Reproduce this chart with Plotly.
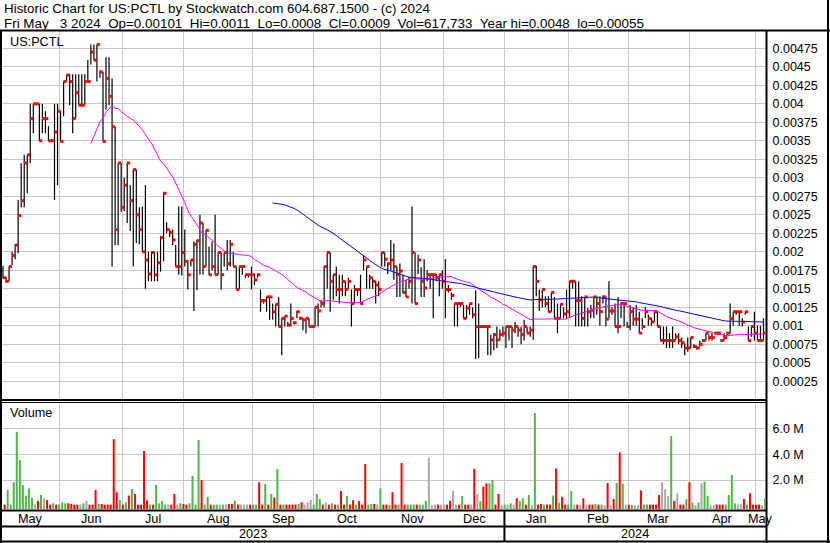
import plotly.graph_objects as go
import pandas as pd

W, H = 830, 543

# ---------------- data ----------------
HOLIDAYS = ["2023-05-29", "2023-06-19", "2023-07-04", "2023-09-04", "2023-11-23",
            "2023-12-25", "2024-01-01", "2024-01-15", "2024-02-19", "2024-03-29"]
trade_days = pd.bdate_range("2023-05-04", "2024-05-03")
trade_days = trade_days[~trade_days.isin(pd.to_datetime(HOLIDAYS))]

# daily high / low / close (USD)
high = [0.00181, 0.00166, 0.0018, 0.002, 0.0021, 0.0027, 0.0032, 0.00331, 0.00331, 0.004,
        0.004, 0.004, 0.004, 0.004, 0.0039, 0.0037, 0.00352, 0.004,
        0.004, 0.0039, 0.0043, 0.00439, 0.0044, 0.0044, 0.0044, 0.0044, 0.0044, 0.0044,
        0.00459, 0.0048, 0.0048, 0.0048, 0.00445, 0.00443, 0.00463, 0.00463, 0.00434, 0.00369,
        0.0032, 0.0032, 0.003, 0.0032, 0.0029, 0.00311, 0.00311, 0.0026, 0.00261, 0.0029,
        0.002, 0.002, 0.002, 0.002, 0.00221, 0.0028, 0.0024, 0.0023, 0.0023, 0.00209, 0.00261, 0.00261,
        0.0023, 0.00189, 0.00189, 0.00214, 0.00216, 0.0025, 0.00239, 0.00229, 0.00207, 0.00214,
        0.0025, 0.00199, 0.00199, 0.00199, 0.00216, 0.00216, 0.002, 0.0018, 0.0018, 0.0018,
        0.00169, 0.00169, 0.0018,
        0.0017, 0.0017, 0.00149, 0.00136, 0.00139, 0.00139, 0.0013, 0.00129, 0.00139, 0.0011,
        0.00113, 0.00105, 0.0013, 0.00106, 0.0012, 0.00112, 0.0011, 0.0011, 0.0011, 0.00101,
        0.00125, 0.0013, 0.00135, 0.00181, 0.00199, 0.00199, 0.00169, 0.0018, 0.00169, 0.00169,
        0.0016, 0.00165, 0.00149, 0.00155, 0.0015, 0.00169, 0.00195, 0.0018, 0.00169, 0.00165,
        0.0016, 0.0016,
        0.00199, 0.00199, 0.00185, 0.00216, 0.00211, 0.0018, 0.00184, 0.00169, 0.00162, 0.00166,
        0.00261, 0.00199, 0.00196, 0.00179, 0.0019, 0.00175, 0.00169, 0.00169, 0.0017, 0.00169,
        0.00175,
        0.0019, 0.00155, 0.00145, 0.0013, 0.0013, 0.00132, 0.00128, 0.00128, 0.0013, 0.00125,
        0.00148, 0.0013, 0.001, 0.00101, 0.00099, 0.00088, 0.0009, 0.00099, 0.00095, 0.00099,
        0.00099, 0.001, 0.00099, 0.00105, 0.00099, 0.00099, 0.00108, 0.00098, 0.00099, 0.00181,
        0.00181, 0.00149, 0.00149, 0.0014, 0.0014, 0.00145, 0.00139, 0.0013, 0.00129, 0.00125,
        0.00149,
        0.0016, 0.00162, 0.0016, 0.0016, 0.0014, 0.00139, 0.00124, 0.00128, 0.00139, 0.0014,
        0.0014, 0.00141, 0.0014, 0.0016, 0.00125, 0.0013, 0.00139, 0.00132, 0.0013, 0.00105,
        0.00128, 0.00125, 0.00128, 0.00119, 0.0011, 0.00125, 0.00115, 0.0011, 0.0012, 0.0012,
        0.00099, 0.00099, 0.00099, 0.0009, 0.00099, 0.0009, 0.0009, 0.00084, 0.00076, 0.00084,
        0.00084, 0.00075, 0.00072, 0.0008, 0.00082, 0.0009, 0.00088, 0.0009, 0.00092, 0.00092,
        0.00082, 0.0009, 0.00092, 0.0013, 0.00119, 0.0012, 0.00119, 0.0011, 0.0012, 0.00099,
        0.00099, 0.00119,
        0.001, 0.001, 0.0011]
low = [0.00164, 0.00158, 0.0016, 0.00182, 0.0019, 0.00198, 0.0026, 0.0026, 0.00279, 0.0032,
       0.0036, 0.00398, 0.0035, 0.0036, 0.0036, 0.0035, 0.00348, 0.0027,
       0.0029, 0.00349, 0.00383, 0.0043, 0.00398, 0.0036, 0.0038, 0.00398, 0.00398, 0.00398,
       0.0043, 0.00453, 0.00459, 0.0043, 0.00435, 0.00349, 0.00392, 0.00398, 0.0018, 0.00209,
       0.00209, 0.00254, 0.00255, 0.00239, 0.00228, 0.0018, 0.00212, 0.0021, 0.002, 0.0015,
       0.0016, 0.0016, 0.0016, 0.0016, 0.00173, 0.00187, 0.00225, 0.0022, 0.00209, 0.0018, 0.00169, 0.00168,
       0.0018, 0.00149, 0.0018, 0.0012, 0.00148, 0.00169, 0.00169, 0.0018, 0.00169, 0.00175,
       0.00169, 0.00169, 0.00149, 0.0018, 0.00175, 0.0018, 0.0018, 0.00149, 0.00149, 0.00169,
       0.00165, 0.00165, 0.00149,
       0.00155, 0.00165, 0.00119, 0.0013, 0.00119, 0.00108, 0.00108, 0.00099, 0.00099, 0.0006,
       0.00099, 0.00099, 0.00099, 0.00102, 0.0011, 0.00108, 0.00094, 0.0009, 0.00099, 0.00098,
       0.00099, 0.00099, 0.00125, 0.00125, 0.0015, 0.00119, 0.00135, 0.0014, 0.0013, 0.0014,
       0.0014, 0.0015, 0.00099, 0.0013, 0.0014, 0.0013, 0.00175, 0.0015, 0.0015, 0.0015,
       0.0013, 0.0014,
       0.0018, 0.0018, 0.0017, 0.00175, 0.00162, 0.00139, 0.00139, 0.00144, 0.00139, 0.0015,
       0.0013, 0.0013, 0.0017, 0.00139, 0.00139, 0.0016, 0.0015, 0.0011, 0.0016, 0.0014,
       0.0015,
       0.0011, 0.00145, 0.00135, 0.00099, 0.00099, 0.00125, 0.0011, 0.0011, 0.00115, 0.0011,
       0.00055, 0.00056, 0.00097, 0.00097, 0.0006, 0.0006, 0.00067, 0.0007, 0.0008, 0.00085,
       0.0007, 0.0008, 0.0007, 0.0009, 0.00085, 0.00075, 0.0008, 0.0009, 0.00085, 0.00081,
       0.0014, 0.0012, 0.00125, 0.00125, 0.00119, 0.00119, 0.0011, 0.0009, 0.0011, 0.0011,
       0.0011,
       0.00112, 0.0015, 0.00099, 0.00099, 0.00099, 0.00099, 0.00099, 0.0011, 0.0011, 0.00115,
       0.001, 0.0013, 0.00099, 0.0011, 0.00115, 0.00099, 0.0009, 0.0011, 0.00099, 0.00097,
       0.00094, 0.001, 0.001, 0.0009, 0.00095, 0.0011, 0.001, 0.001, 0.00105, 0.00099,
       0.0008, 0.00075, 0.0007, 0.0007, 0.0007, 0.0008, 0.00075, 0.0007, 0.0006, 0.00065,
       0.0007, 0.0007, 0.00068, 0.00072, 0.00078, 0.0008, 0.0008, 0.0008, 0.00088, 0.00088,
       0.00078, 0.0008, 0.00088, 0.0009, 0.001, 0.00115, 0.001, 0.00099, 0.00115, 0.0008,
       0.00085, 0.0008,
       0.0008, 0.0008, 0.0008]
close = [0.00165, 0.0016, 0.0018, 0.00195, 0.00209, 0.00249, 0.00269, 0.0032, 0.00331, 0.0038,
         0.004, 0.004, 0.0035, 0.0038, 0.0038, 0.0035, 0.0035, 0.00362,
         0.0039, 0.00349, 0.0043, 0.00439, 0.0043, 0.0038, 0.00415, 0.00398, 0.00398, 0.0043,
         0.0043, 0.0047, 0.00459, 0.0048, 0.00443, 0.00349, 0.00434, 0.0041, 0.00369, 0.0023,
         0.0032, 0.0026, 0.0029, 0.0032, 0.00269, 0.00311, 0.0025, 0.0023, 0.002, 0.00189,
         0.0017, 0.00199, 0.00169, 0.00185, 0.00219, 0.00279, 0.0023, 0.00226, 0.00216, 0.0018, 0.0018, 0.00199,
         0.00187, 0.00169, 0.00189, 0.0021, 0.00215, 0.00239, 0.0018, 0.00229, 0.00169, 0.0018,
         0.00169, 0.00199, 0.00169, 0.00199, 0.00184, 0.0021, 0.0018, 0.00149, 0.0018, 0.0018,
         0.00169, 0.00169, 0.00169,
         0.00162, 0.00169, 0.00134, 0.00134, 0.00139, 0.00139, 0.00119, 0.00129, 0.00099, 0.0011,
         0.00113, 0.00101, 0.0011, 0.00104, 0.00119, 0.0011, 0.00108, 0.0011, 0.00099, 0.00099,
         0.00125, 0.0012, 0.0013, 0.0018, 0.00199, 0.0016, 0.00169, 0.00149, 0.00149, 0.0016,
         0.00149, 0.0016, 0.0013, 0.00149, 0.00149, 0.0013, 0.00189, 0.0018, 0.00165, 0.0016,
         0.00155, 0.00149,
         0.00199, 0.0019, 0.00184, 0.00189, 0.0018, 0.00169, 0.00174, 0.00145, 0.00139, 0.0016,
         0.00199, 0.0013, 0.00189, 0.0016, 0.00151, 0.00169, 0.00169, 0.00169, 0.00165, 0.00169,
         0.0016,
         0.00149, 0.00149, 0.00141, 0.0013, 0.0013, 0.0013, 0.0011, 0.00124, 0.0013, 0.00115,
         0.00099, 0.00099, 0.00099, 0.00099, 0.00099, 0.00081, 0.00088, 0.00081, 0.00088, 0.0009,
         0.00099, 0.00099, 0.00094, 0.00099, 0.00094, 0.00088, 0.00099, 0.0009, 0.00094, 0.0018,
         0.0016, 0.00135, 0.00149, 0.0013, 0.00119, 0.00145, 0.0011, 0.0011, 0.00129, 0.00116,
         0.00119,
         0.0016, 0.0016, 0.00134, 0.00134, 0.0011, 0.00139, 0.00119, 0.00121, 0.00139, 0.0013,
         0.00119, 0.00139, 0.00109, 0.0012, 0.0012, 0.00099, 0.00099, 0.0013, 0.0013, 0.00099,
         0.00119, 0.00109, 0.00109, 0.0009, 0.00099, 0.00119, 0.0011, 0.00105, 0.00119, 0.00099,
         0.0008, 0.0008, 0.0008, 0.0008, 0.0008, 0.00085, 0.0008, 0.00077, 0.0007, 0.0007,
         0.00084, 0.00072, 0.0007, 0.00075, 0.0008, 0.0009, 0.00084, 0.00084, 0.0009, 0.0009,
         0.0008, 0.00084, 0.0009, 0.0011, 0.00119, 0.00119, 0.00119, 0.00105, 0.00119, 0.0008,
         0.00099, 0.0009,
         0.0008, 0.0008, 0.0009]

# daily volume in millions of shares and bar colour code (g=up, r=down, n=unchanged)
volume_m = [0.1, 1.24, 0.1, 1.83, 5.74, 3.55, 1.62, 0.8, 1.36, 0.64,
            0.1, 0.39, 0.85, 0.59, 0.46, 0.1, 0.2, 0.1, 0.1, 0.28,
            0.2, 0.2, 0.15, 0.1, 0.1, 0.1, 0.2, 0.39, 0.1, 0.1,
            1.24, 0.15, 0.15, 0.1, 0.1, 0.1, 5.17, 1.06, 0.46, 0.1,
            0.28, 0.8, 1.31, 0.93, 0.1, 0.1, 4.25, 0.44, 0.1, 0.1,
            1.62, 0.2, 0.39, 0.1, 0.1, 0.1, 0.93, 0.1, 0.2, 0.15,
            0.1, 0.2, 2.32, 0.1, 5.1, 2.0, 0.1, 0.7, 0.1, 0.1,
            0.1, 0.1, 0.1, 0.1, 0.15, 0.15, 0.39, 0.1, 0.1, 0.1,
            0.1, 0.1, 0.1, 0.1, 1.83, 0.1, 1.7, 0.1, 0.93, 0.64,
            2.86, 0.1, 0.1, 0.1, 0.1, 0.1, 0.1, 0.15, 0.28, 0.1,
            0.28, 0.46, 0.1, 0.93, 0.54, 0.1, 0.28, 0.1, 0.2, 0.1,
            0.1, 1.16, 0.1, 0.77, 0.1, 0.44, 0.1, 0.39, 0.1, 3.24,
            0.1, 0.15, 0.15, 0.1, 1.36, 0.1, 0.1, 0.1, 1.06, 0.1,
            0.1, 3.32, 0.1, 0.1, 0.1, 0.1, 0.1, 0.1, 0.1, 0.39,
            3.73, 0.05, 0.1, 0.1, 0.1, 0.1, 0.1, 0.39, 1.16, 0.1,
            0.1, 0.77, 0.1, 0.1, 0.1, 2.86, 0.93, 0.36, 1.49, 1.75,
            1.75, 2.0, 0.1, 0.93, 0.05, 0.1, 0.1, 0.2, 0.1, 0.59,
            0.39, 0.59, 0.1, 0.85, 0.05, 7.2, 0.1, 0.15, 0.1, 0.1,
            0.1, 0.8, 2.9, 0.26, 0.7, 0.1, 0.1, 1.16, 0.1, 0.1,
            0.08, 0.59, 0.1, 0.1, 0.1, 0.15, 0.1, 0.1, 0.05, 1.78,
            0.05, 0.54, 1.78, 4.14, 1.7, 0.1, 0.1, 0.08, 0.05, 0.08,
            1.2, 0.1, 0.1, 0.1, 0.1, 0.1, 0.85, 1.83, 1.3, 0.77,
            5.4, 0.39, 0.96, 0.1, 0.1, 0.52, 1.83, 0.26, 0.05, 0.26,
            1.75, 1.88, 0.77, 0.05, 0.05, 0.1, 0.1, 0.1, 0.1, 0.85,
            2.4, 0.2, 0.1, 0.1, 0.54, 0.1, 0.98, 0.1, 0.1, 0.1,
            0.05, 0.62]
vol_dir = list("rggggggggg" "nrgnrrgrgg" "grrrrngnrr" "rgrrrrrrgr" "grgrrrrrgr"
               "ggggnrrngr" "rggggrggrg" "gngnrrgrnn" "nrggrrgrgr" "grgrrrrgrn"
               "nngggrnrgr" "grrgrrgrrr" "ggrngrrgrr" "grrgggrggg" "nnnrnnrrnn"
               "rgrrnrngrr" "ggrrngngnr" "ggrgngrrgr" "rgrgrrggnr" "nrnrrgrgnr"
               "nrgrgnrgnn" "rggrrrrnnn" "grnrrgrgng" "nggnnrrrgg" "ggnnrgrrrr"
               "ng")

PRICE_TICKS = [0.00025, 0.0005, 0.00075, 0.001, 0.00125, 0.0015, 0.00175, 0.002, 0.00225,
               0.0025, 0.00275, 0.003, 0.00325, 0.0035, 0.00375, 0.004, 0.00425, 0.0045, 0.00475]
PRICE_TICK_TEXT = ["0.00025", "0.0005", "0.00075", "0.001", "0.00125", "0.0015", "0.00175",
                   "0.002", "0.00225", "0.0025", "0.00275", "0.003", "0.00325", "0.0035",
                   "0.00375", "0.004", "0.00425", "0.0045", "0.00475"]
VOL_TICKS = [2, 4, 6]
VOL_TICK_TEXT = ["2.0 M", "4.0 M", "6.0 M"]

HEADER_1 = "Historic Chart for US:PCTL by Stockwatch.com 604.687.1500 - (c) 2024"
HEADER_2 = ("Fri May\u00a0\u00a0\u00a03 2024\u00a0\u00a0Op=0.00101\u00a0\u00a0Hi=0.0011\u00a0\u00a0"
            "Lo=0.0008\u00a0\u00a0Cl=0.0009\u00a0\u00a0Vol=617,733\u00a0\u00a0Year hi=0.0048"
            "\u00a0\u00a0lo=0.00055")

# ---------------- geometry helpers ----------------
n = len(close)
idx = list(range(n))
XR = (-0.33, n - 0.5)
X0P, X1P = 2, 765
def px(xd):
    return X0P + (xd - XR[0]) / (XR[1] - XR[0]) * (X1P - X0P)
def fx(p):
    return p / W
def fy(p):
    return 1 - p / H

FONT = "Liberation Sans, Arial, sans-serif"
GRID = "#C8C8C8"

ma_fast = pd.Series(close).rolling(30).mean()
ma_slow = pd.Series(close).rolling(90).mean()

# month boundaries / labels from the trading dates
months = pd.Series(idx, index=trade_days).groupby([trade_days.year, trade_days.month])
month_first = [g.iloc[0] for _, g in months]
month_last = [g.iloc[-1] for _, g in months]
month_names = [trade_days[f].strftime("%b") for f in month_first]
boundaries = [f - 0.5 for f in month_first[1:]]
year_break = [f - 0.5 for f in month_first if trade_days[f].month == 1][0]

fig = go.Figure()

# hi-lo bars
bx, by = [], []
for i in idx:
    bx += [i, i, None]
    by += [low[i], high[i], None]
fig.add_trace(go.Scatter(x=bx, y=by, mode="lines", line=dict(color="black", width=1.2),
                         hoverinfo="skip", showlegend=False, xaxis="x", yaxis="y"))
# close ticks
fig.add_trace(go.Scatter(x=[i + 0.45 for i in idx], y=close, mode="markers",
                         marker=dict(symbol="square", size=3, color="#FF0000", line=dict(width=0)),
                         showlegend=False, xaxis="x", yaxis="y"))
# moving averages
fig.add_trace(go.Scatter(x=idx, y=ma_fast, mode="lines", line=dict(color="#FF00FF", width=1),
                         showlegend=False, xaxis="x", yaxis="y"))
fig.add_trace(go.Scatter(x=idx, y=ma_slow, mode="lines", line=dict(color="#0000FF", width=1),
                         showlegend=False, xaxis="x", yaxis="y"))

# volume bars (vertical segments from panel floor)
VOL_FLOOR = -0.24
VOL_COLORS = {"g": "#4DB848", "r": "#FF0000", "n": "#A8A8A8"}
for code, col in VOL_COLORS.items():
    vx, vy = [], []
    for i in idx:
        if vol_dir[i] == code:
            vx += [i + 0.55, i + 0.55, None]
            vy += [VOL_FLOOR, volume_m[i], None]
    fig.add_trace(go.Scatter(x=vx, y=vy, mode="lines", line=dict(color=col, width=2),
                             hoverinfo="skip", showlegend=False, xaxis="x2", yaxis="y2"))

shapes = []
def hline(y, x0, x1, w=2):
    shapes.append(dict(type="line", xref="paper", yref="paper", x0=fx(x0), x1=fx(x1),
                       y0=fy(y), y1=fy(y), line=dict(color="black", width=w), layer="above"))
def vline(x, y0, y1, w=2):
    shapes.append(dict(type="line", xref="paper", yref="paper", x0=fx(x), x1=fx(x),
                       y0=fy(y0), y1=fy(y1), line=dict(color="black", width=w), layer="above"))

hline(30.5, 0, W)
vline(1, 30, H)
vline(828, 0, H)
vline(766.5, 30, H)
hline(400, 0, 767)
hline(402.5, 0, 767, 1)
hline(510.5, 0, 767)
hline(526.5, 0, 767)
hline(541.5, 0, W)
vline(px(year_break), 510, 542)

ann = []
def text(t, x, y, size=12.7, xanchor="left"):
    ann.append(dict(text=t, x=fx(x), y=fy(y), xref="paper", yref="paper", showarrow=False,
                    xanchor=xanchor, yanchor="middle", font=dict(family=FONT, size=size, color="black")))

text(HEADER_1, 2, 9, 13.4)
text(HEADER_2, 2, 23, 13.4)
text("US:PCTL", 8, 42, 12.7)
text("Volume", 8, 413, 12.7)
for f, l, name in zip(month_first, month_last, month_names):
    lo_x = max(f - 0.5, XR[0])
    hi_x = min(l + 0.5, XR[1])
    text(name, px((lo_x + hi_x) / 2), 518.5, 12.7, "center")
yb = px(year_break)
text("2023", (1 + yb) / 2, 534, 12.7, "center")
text("2024", (yb + 766) / 2, 534, 12.7, "center")

xcommon = dict(range=list(XR), domain=[fx(X0P), fx(X1P)], tickvals=boundaries,
               showticklabels=False, showgrid=True, gridcolor=GRID, gridwidth=1,
               zeroline=False, showline=False, ticks="", fixedrange=True)

fig.update_layout(
    width=W, height=H, margin=dict(l=0, r=0, t=0, b=0),
    paper_bgcolor="white", plot_bgcolor="white", showlegend=False,
    xaxis=dict(**xcommon, anchor="y"),
    xaxis2=dict(**xcommon, anchor="y2", matches="x"),
    yaxis=dict(domain=[fy(399), fy(32)], range=[0.00001, 0.00497], side="right",
               tickvals=PRICE_TICKS, ticktext=PRICE_TICK_TEXT, showgrid=True, gridcolor=GRID,
               zeroline=False, showline=False, ticks="outside", ticklen=4,
               tickcolor="rgba(0,0,0,0)", tickfont=dict(family=FONT, size=12.5, color="black"),
               anchor="x", fixedrange=True),
    yaxis2=dict(domain=[fy(509), fy(402)], range=[VOL_FLOOR, 8.05], side="right",
                tickvals=VOL_TICKS, ticktext=VOL_TICK_TEXT, showgrid=True, gridcolor=GRID,
                zeroline=False, showline=False, ticks="outside", ticklen=4,
                tickcolor="rgba(0,0,0,0)", tickfont=dict(family=FONT, size=12.5, color="black"),
                anchor="x2", fixedrange=True),
    shapes=shapes, annotations=ann,
)

fig.write_html("out.html", config={"displayModeBar": False},
               post_script="document.body.style.margin='0px';document.body.style.overflow='hidden';")
